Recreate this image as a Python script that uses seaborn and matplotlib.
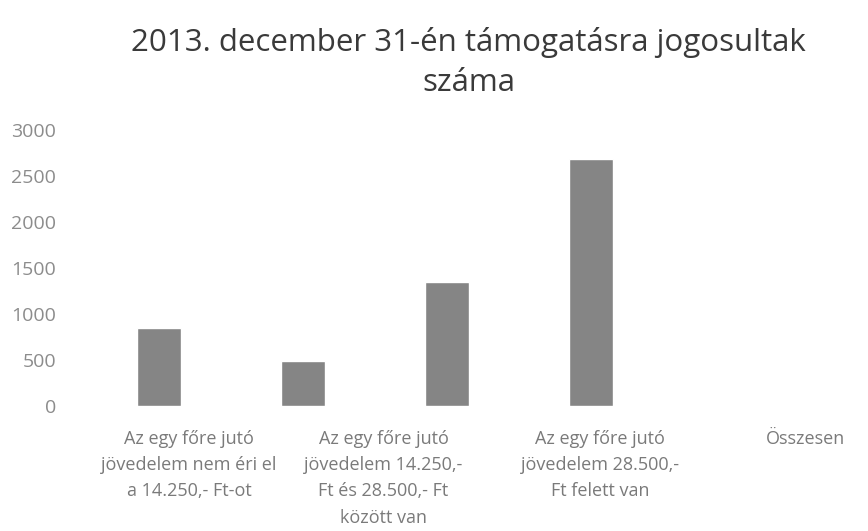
import numpy as np
import pandas as pd
import seaborn as sns
import matplotlib.pyplot as plt

sns.set_theme(style="white")
plt.rcParams['font.family'] = ['Open Sans', 'DejaVu Sans']

# data
categories = ["Az egy főre jutó\njövedelem nem éri el\na 14.250,- Ft-ot",
              "Az egy főre jutó\njövedelem 14.250,-\nFt és 28.500,- Ft\nközött van",
              "Az egy főre jutó\njövedelem 28.500,-\nFt felett van",
              "Összesen"]
values = [850, 490, 1350, 2690]
yticks = [0, 500, 1000, 1500, 2000, 2500, 3000]

df = pd.DataFrame({"cat": categories, "n": values})

fig = plt.figure(figsize=(8.68, 5.31), dpi=100)
ax = fig.add_axes([0.10, 0.235, 0.664, 0.52])

sns.barplot(data=df, x="cat", y="n", color="#858585", width=0.31,
            saturation=1, ax=ax)

ax.set_ylim(0, 3000)
ax.set_xlim(-0.5, 3.5)
ax.set_yticks(yticks)
ax.set_yticklabels([str(t) for t in yticks], color="#8c8c8c", fontsize=14)
ax.tick_params(axis="y", length=0, pad=22)
ax.set_xticks([])
ax.set_xlabel("")
ax.set_ylabel("")
sns.despine(ax=ax, left=True, bottom=True)

# category labels (scan is stretched, so labels sit right of the bars)
label_x = [0.21, 1.56, 3.06, 4.49]
for x, lab in zip(label_x, categories):
    ax.text(x, -0.085, lab, transform=ax.get_xaxis_transform(),
            ha="center", va="top", fontsize=13, color="#7a7a7a",
            linespacing=1.6, clip_on=False)

fig.text(0.54, 0.95, "2013. december 31-én támogatásra jogosultak\nszáma",
         ha="center", va="top", fontsize=22.5, color="#3a3a3a", linespacing=1.45)

fig.savefig("out.png", dpi=100)
